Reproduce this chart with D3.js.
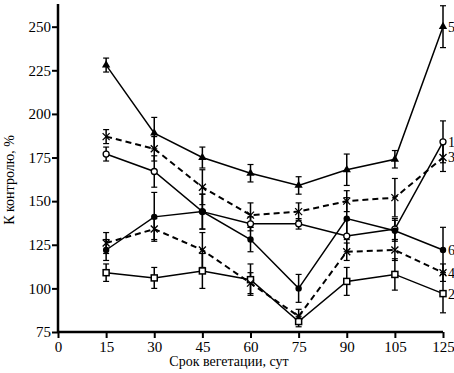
<!DOCTYPE html>
<html>
<head>
<meta charset="utf-8">
<script src="https://cdn.jsdelivr.net/npm/d3@7"></script>
<style>
  body { margin: 0; background: #fff; }
  svg { display: block; }
  text { font-family: "Liberation Serif", "Times New Roman", serif; fill: #000; }
</style>
</head>
<body>
<svg id="chart" width="454" height="373"></svg>
<script>
// days of vegetation
var days = [15, 30, 45, 60, 75, 90, 105, 120];
var xTickValues = [0, 15, 30, 45, 60, 75, 90, 105, 120];
var xTickLabels = ["0", "15", "30", "45", "60", "75", "90", "105", "125"];
var yTickValues = [75, 100, 125, 150, 175, 200, 225, 250];

// % of control, per series
var s1 = [177, 167, 144, 137, 137, 130, 134, 184];
var s2 = [109, 106, 110, 105, 81, 104, 108, 97];
var s3 = [187, 180, 158, 142, 144, 150, 152, 175];
var s4 = [126, 134, 122, 103, 84, 121, 122, 109];
var s5 = [228, 189, 175, 166, 159, 168, 174, 250];
var s6 = [122, 141, 144, 128, 100, 140, 133, 122];

// error half-widths
var e1 = [4, 9, 10, 4, 3, 9, 6, 12];
var e2 = [5, 6, 10, 9, 3, 8, 9, 11];
var e3 = [4, 7, 10, 7, 5, 6, 11, 8];
var e4 = [6, 6, 10, 6, 4, 5, 6, 5];
var e5 = [4, 9, 6, 5, 5, 9, 5, 12];
var e6 = [6, 14, 10, 7, 8, 12, 6, 13];

var seriesNames = ["1", "2", "3", "4", "5", "6"];

var series = [
  { name: seriesNames[0], values: s1, err: e1, marker: "circleOpen", dashed: false },
  { name: seriesNames[1], values: s2, err: e2, marker: "square", dashed: false },
  { name: seriesNames[2], values: s3, err: e3, marker: "cross", dashed: true },
  { name: seriesNames[3], values: s4, err: e4, marker: "cross", dashed: true },
  { name: seriesNames[4], values: s5, err: e5, marker: "triangle", dashed: false },
  { name: seriesNames[5], values: s6, err: e6, marker: "circleFilled", dashed: false }
];

var svg = d3.select("#chart");

var x = d3.scaleLinear().domain([0, 120]).range([58, 443]);
var y = d3.scaleLinear().domain([75, 263]).range([332, 4]);

var xAxis = d3.axisBottom(x)
  .tickValues(xTickValues)
  .tickFormat(function (d, i) { return xTickLabels[i]; })
  .tickSize(6)
  .tickPadding(3);

var yAxis = d3.axisLeft(y)
  .tickValues(yTickValues)
  .tickSize(6)
  .tickPadding(1);

var gx = svg.append("g")
  .attr("transform", "translate(0," + y(75) + ")")
  .call(xAxis);
gx.select(".domain").attr("d", "M" + x(0) + ",0H" + x(120));

var gy = svg.append("g")
  .attr("transform", "translate(" + x(0) + ",0)")
  .call(yAxis);
gy.select(".domain").attr("d", "M0," + y(75) + "V" + y(263));

[gx, gy].forEach(function (g) {
  g.selectAll(".domain").attr("stroke", "#000").attr("stroke-width", 2.5);
  g.selectAll(".tick line").attr("stroke", "#000").attr("stroke-width", 2);
  g.selectAll(".tick text")
    .attr("font-size", "15px")
    .attr("font-family", "Liberation Serif, serif")
    .attr("fill", "#000");
});

// axis titles
svg.append("text")
  .attr("x", 229)
  .attr("y", 366)
  .attr("text-anchor", "middle")
  .attr("font-size", "14px")
  .text("Срок вегетации, сут");

svg.append("text")
  .attr("transform", "translate(14,180) rotate(-90)")
  .attr("text-anchor", "middle")
  .attr("font-size", "14px")
  .text("К контролю, %");

var line = d3.line()
  .x(function (d, i) { return x(days[i]); })
  .y(function (d) { return y(d); });

var plot = svg.append("g");

// error bars
series.forEach(function (s) {
  var g = plot.append("g");
  s.values.forEach(function (v, i) {
    var cx = x(days[i]);
    var top = y(v + s.err[i]), bot = y(v - s.err[i]);
    g.append("line")
      .attr("x1", cx).attr("x2", cx)
      .attr("y1", top).attr("y2", bot)
      .attr("stroke", "#000").attr("stroke-width", 1.5);
    [top, bot].forEach(function (yy) {
      g.append("line")
        .attr("x1", cx - 3).attr("x2", cx + 3)
        .attr("y1", yy).attr("y2", yy)
        .attr("stroke", "#000").attr("stroke-width", 1.2);
    });
  });
});

// lines
series.forEach(function (s) {
  plot.append("path")
    .attr("d", line(s.values))
    .attr("fill", "none")
    .attr("stroke", "#000")
    .attr("stroke-width", s.dashed ? 2 : 1.5)
    .attr("stroke-dasharray", s.dashed ? "6,4" : null);
});

// markers
series.forEach(function (s) {
  var g = plot.append("g");
  s.values.forEach(function (v, i) {
    var cx = x(days[i]), cy = y(v);
    if (s.marker === "circleOpen") {
      g.append("circle").attr("cx", cx).attr("cy", cy).attr("r", 3)
        .attr("fill", "#fff").attr("stroke", "#000").attr("stroke-width", 1.3);
    } else if (s.marker === "circleFilled") {
      g.append("circle").attr("cx", cx).attr("cy", cy).attr("r", 3.2)
        .attr("fill", "#000");
    } else if (s.marker === "square") {
      g.append("rect").attr("x", cx - 3).attr("y", cy - 3)
        .attr("width", 6).attr("height", 6)
        .attr("fill", "#fff").attr("stroke", "#000").attr("stroke-width", 1.5);
    } else if (s.marker === "triangle") {
      g.append("path")
        .attr("d", d3.symbol(d3.symbolTriangle, 30)())
        .attr("transform", "translate(" + cx + "," + cy + ")")
        .attr("fill", "#000");
    } else if (s.marker === "cross") {
      g.append("path")
        .attr("d", "M-3.5,-3.5L3.5,3.5M-3.5,3.5L3.5,-3.5")
        .attr("transform", "translate(" + cx + "," + cy + ")")
        .attr("stroke", "#000").attr("stroke-width", 1.3);
    }
  });
  // series label next to last point
  var last = s.values.length - 1;
  g.append("text")
    .attr("x", x(days[last]) + 5)
    .attr("y", y(s.values[last]))
    .attr("dy", "0.35em")
    .attr("font-size", "14px")
    .text(s.name);
});
</script>
</body>
</html>
